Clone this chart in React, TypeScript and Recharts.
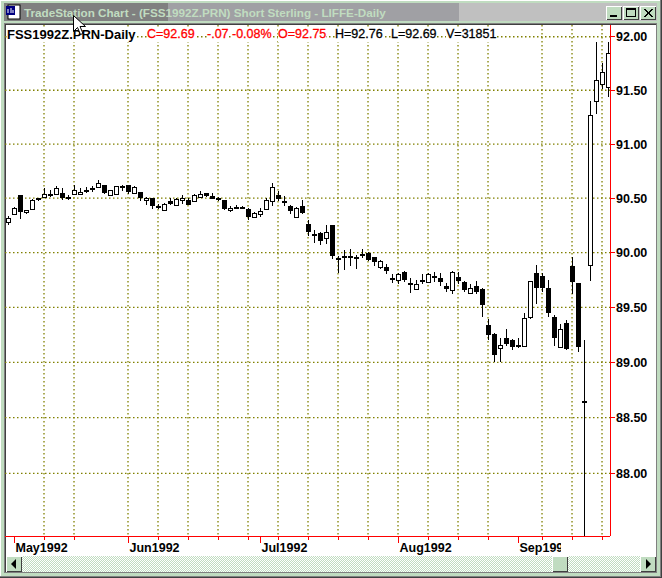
import { BarChart, Bar, XAxis, YAxis, CartesianGrid } from "recharts"

// one bar per trading day
const opens = [
	90.28, 90.35, 90.53, 90.37, 90.40, 90.50, 90.51, 90.54, 90.54, 90.55,
	90.51, 90.54, 90.54, 90.58, 90.59, 90.60, 90.62, 90.53, 90.54, 90.61,
	90.62, 90.55, 90.56, 90.48, 90.50, 90.43, 90.39, 90.47, 90.44, 90.48,
	90.48, 90.47, 90.51, 90.55, 90.52, 90.50, 90.48, 90.39, 90.42, 90.42,
	90.40, 90.33, 90.35, 90.40, 90.47, 90.53, 90.47, 90.43, 90.33, 90.43,
	90.26, 90.17, 90.18, 90.13, 90.25, 89.95, 89.97, 89.97, 89.96, 89.99,
	90.00, 89.96, 89.87, 89.87, 89.77, 89.75, 89.82, 89.72, 89.67, 89.75,
	89.73, 89.79, 89.77, 89.69, 89.66, 89.78, 89.73, 89.63, 89.69, 89.67,
	89.34, 89.26, 89.13, 89.22, 89.20, 89.16, 89.15, 89.41, 89.81, 89.79,
	89.68, 89.41, 89.14, 89.36, 89.88, 89.72, 88.65, 89.89, 91.40, 91.56,
	91.53,
]
const highs = [
	90.34, 90.42, 90.53, 90.39, 90.49, 90.50, 90.59, 90.58, 90.61, 90.59,
	90.53, 90.62, 90.59, 90.60, 90.61, 90.67, 90.62, 90.58, 90.61, 90.62,
	90.62, 90.61, 90.56, 90.51, 90.50, 90.45, 90.46, 90.50, 90.50, 90.53,
	90.50, 90.54, 90.57, 90.55, 90.55, 90.51, 90.48, 90.43, 90.44, 90.43,
	90.41, 90.37, 90.41, 90.50, 90.64, 90.57, 90.52, 90.44, 90.42, 90.48,
	90.30, 90.21, 90.19, 90.25, 90.25, 89.97, 90.02, 90.03, 89.98, 90.03,
	90.01, 89.96, 89.93, 89.90, 89.80, 89.81, 89.83, 89.77, 89.75, 89.80,
	89.81, 89.82, 89.81, 89.72, 89.83, 89.82, 89.74, 89.71, 89.74, 89.68,
	89.39, 89.27, 89.22, 89.30, 89.21, 89.22, 89.45, 89.74, 89.89, 89.81,
	89.75, 89.43, 89.35, 89.38, 89.96, 89.72, 89.20, 91.40, 91.95, 91.75,
	91.95,
]
const lows = [
	90.25, 90.35, 90.31, 90.35, 90.39, 90.47, 90.50, 90.51, 90.54, 90.48,
	90.48, 90.54, 90.53, 90.55, 90.56, 90.60, 90.54, 90.53, 90.54, 90.57,
	90.54, 90.55, 90.47, 90.44, 90.40, 90.40, 90.38, 90.44, 90.43, 90.45,
	90.44, 90.47, 90.51, 90.51, 90.49, 90.47, 90.39, 90.37, 90.40, 90.40,
	90.30, 90.32, 90.33, 90.39, 90.43, 90.47, 90.43, 90.35, 90.32, 90.35,
	90.15, 90.09, 90.07, 90.08, 89.94, 89.81, 89.84, 89.88, 89.85, 89.95,
	89.92, 89.88, 89.85, 89.80, 89.72, 89.71, 89.73, 89.63, 89.66, 89.71,
	89.72, 89.73, 89.69, 89.64, 89.62, 89.71, 89.64, 89.62, 89.62, 89.41,
	89.20, 89.00, 89.00, 89.15, 89.11, 89.13, 89.15, 89.39, 89.53, 89.64,
	89.41, 89.15, 89.13, 89.11, 89.62, 89.09, 87.44, 89.74, 91.28, 91.51,
	91.44,
]
const closes = [
	90.32, 90.41, 90.37, 90.39, 90.48, 90.48, 90.54, 90.52, 90.59, 90.50,
	90.49, 90.58, 90.56, 90.58, 90.59, 90.64, 90.55, 90.58, 90.61, 90.61,
	90.56, 90.60, 90.50, 90.50, 90.43, 90.41, 90.45, 90.45, 90.49, 90.50,
	90.44, 90.53, 90.54, 90.52, 90.49, 90.49, 90.40, 90.41, 90.42, 90.40,
	90.33, 90.36, 90.38, 90.48, 90.60, 90.49, 90.47, 90.38, 90.41, 90.36,
	90.19, 90.17, 90.11, 90.19, 89.97, 89.93, 89.97, 89.97, 89.94, 89.97,
	89.93, 89.91, 89.92, 89.83, 89.76, 89.80, 89.75, 89.71, 89.71, 89.74,
	89.80, 89.79, 89.73, 89.67, 89.82, 89.74, 89.66, 89.68, 89.64, 89.52,
	89.25, 89.07, 89.16, 89.17, 89.14, 89.15, 89.40, 89.74, 89.68, 89.68,
	89.45, 89.22, 89.30, 89.12, 89.73, 89.14, 88.65, 91.27, 91.60, 91.67,
	91.85,
]

const priceTicks = [92, 91.5, 91, 90.5, 90, 89.5, 89, 88.5, 88]
const minorDays = [6, 11, 25, 30, 35, 40, 45, 50, 55, 60, 70, 75, 80, 89, 94, 99]
const gridDays = [6, 11, 20, 25, 30, 35, 40, 45, 50, 55, 60, 65, 70, 75, 80, 89, 94, 99]
const monthDays = [1, 20, 42, 65, 85]
const monthLabels = ["May1992", "Jun1992", "Jul1992", "Aug1992", "Sep1992"]

const candles = closes.map((close, i) => ({
	day: i,
	open: opens[i],
	close,
	range: [lows[i], highs[i]],
}))

const Candle = (props: any) => {
	const { x, y, width, height, payload } = props
	const [low, high] = payload.range
	const perUnit = height / (high - low)
	const cx = Math.floor(x + width / 2) + 0.5
	const yAt = (v: number) => y + (high - v) * perUnit
	const top = Math.round(yAt(Math.max(payload.open, payload.close)))
	const bottom = Math.round(yAt(Math.min(payload.open, payload.close)))
	const up = payload.close > payload.open
	return (
		<g shapeRendering="crispEdges">
			<line x1={cx} x2={cx} y1={y} y2={y + height} stroke="#000" />
			{up ? (
				<rect
					x={cx - 2}
					y={top + 0.5}
					width={4}
					height={Math.max(bottom - top, 1)}
					fill="#fff"
					stroke="#000"
				/>
			) : (
				<rect
					x={cx - 2.5}
					y={top}
					width={5}
					height={Math.max(bottom - top, 2)}
					fill="#000"
				/>
			)}
		</g>
	)
}

const DayTick = (props: any) => {
	const { x, y, payload } = props
	const m = monthDays.indexOf(payload.value)
	const px = Math.floor(x) + 0.5
	return (
		<g>
			<line
				x1={px}
				x2={px}
				y1={y}
				y2={y + (m >= 0 ? 7 : 4)}
				stroke="#f00"
				shapeRendering="crispEdges"
			/>
			{m >= 0 && (
				<text
					x={px + 1}
					y={y + 16}
					clipPath="url(#monthClip)"
					fontFamily="Liberation Sans"
					fontWeight="bold"
					fontSize={12.5}
					fill="#000"
				>
					{monthLabels[m]}
				</text>
			)}
		</g>
	)
}

const PriceChart = () => (
	<BarChart
		width={662}
		height={578}
		data={candles}
		margin={{ top: 25, right: 0, left: 5, bottom: 0 }}
		style={{ position: "absolute", left: 0, top: 0 }}
	>
		<defs>
			<clipPath id="monthClip">
				<rect x={0} y={530} width={561} height={40} />
			</clipPath>
		</defs>
		<CartesianGrid
			stroke="#808000"
			strokeWidth={1.3}
			strokeDasharray="1.5 2.5"
			horizontalValues={priceTicks}
			verticalValues={gridDays}
		/>
		<XAxis
			dataKey="day"
			type="number"
			domain={[-0.5, 100.33]}
			ticks={[...minorDays, ...monthDays].sort((a, b) => a - b)}
			interval={0}
			height={42}
			tickSize={0}
			tickMargin={0}
			tickLine={false}
			tick={DayTick}
			axisLine={{ stroke: "#f00", shapeRendering: "crispEdges" }}
		/>
		<YAxis
			orientation="right"
			scale="log"
			domain={[87.44, 92.11]}
			allowDataOverflow
			ticks={priceTicks}
			interval={0}
			width={52}
			tickSize={5}
			tickMargin={1}
			tickFormatter={(v: number) => v.toFixed(2)}
			tickLine={{ stroke: "#f00", shapeRendering: "crispEdges" }}
			axisLine={{ stroke: "#f00", shapeRendering: "crispEdges" }}
			tick={{
				fill: "#000",
				fontFamily: "Liberation Sans",
				fontWeight: "bold",
				fontSize: 12.5,
			}}
		/>
		<Bar
			dataKey="range"
			barSize={5}
			shape={Candle}
			isAnimationActive={false}
		/>
	</BarChart>
)

const headerItems = [
	{ text: "FSS1992Z.PRN-Daily", x: 7, color: "#000", bold: true },
	{ text: "C=92.69", x: 147, color: "#f00", bold: false },
	{ text: "-.07", x: 207, color: "#f00", bold: false },
	{ text: "-0.08%", x: 232, color: "#f00", bold: false },
	{ text: "O=92.75", x: 278, color: "#f00", bold: false },
	{ text: "H=92.76", x: 335, color: "#000", bold: false },
	{ text: "L=92.69", x: 391, color: "#000", bold: false },
	{ text: "V=31851", x: 446, color: "#000", bold: false },
]

const bevel = "inset 1px 1px 0 #fff, inset -1px -1px 0 #404040"
const green = "#c0dcc0"

const box = (left: number, top: number, width: number, height: number) => ({
	position: "absolute" as const,
	left,
	top,
	width,
	height,
})

const WinButton = ({ left, top, width, height, children }: any) => (
	<div style={{ ...box(left, top, width, height), background: green, boxShadow: bevel }}>
		<svg width={width} height={height} style={{ display: "block" }}>
			{children}
		</svg>
	</div>
)

export default function App() {
	return (
		<div
			style={{
				...box(0, 0, 662, 578),
				background: green,
				overflow: "hidden",
				boxShadow: "inset -1px -1px 0 #404040, inset -2px -2px 0 #808080, inset 1px 1px 0 #fff",
			}}
		>
			{/* title bar */}
			<div style={{ ...box(4, 3, 653, 18), background: "#c0c0c0" }} />
			<div style={{ ...box(4, 3, 455, 18), background: "#a0a0a4" }} />
			<div style={{ ...box(4, 3, 164, 18), background: "#808080" }} />
			<div
				style={{
					...box(24, 3, 440, 18),
					color: green,
					fontFamily: "Liberation Sans",
					fontWeight: "bold",
					fontSize: 11.7,
					lineHeight: "20px",
					whiteSpace: "nowrap",
				}}
			>
				TradeStation Chart - (FSS1992Z.PRN) Short Sterling - LIFFE-Daily
			</div>
			<svg style={box(5, 4, 16, 16)} width={16} height={16}>
				<rect x={3} y={1} width={12} height={14} fill="#fff" stroke="#000" />
				<rect x={1} y={2} width={9} height={9} fill="#000080" />
				<path d="M3 9V5M6 9V4M8 9V6" stroke="#fff" />
			</svg>
			<WinButton left={606} top={6} width={16} height={14}>
				<rect x={4} y={9} width={7} height={2} fill="#000" />
			</WinButton>
			<WinButton left={623} top={6} width={16} height={14}>
				<rect x={3.5} y={2.5} width={9} height={8} fill="none" stroke="#000" />
				<rect x={3} y={2} width={10} height={2} fill="#000" />
			</WinButton>
			<WinButton left={640} top={6} width={16} height={14}>
				<path d="M4 3L12 11M12 3L4 11M5 3L13 11M13 3L5 11" stroke="#000" fill="none" />
			</WinButton>

			{/* client area */}
			<div style={{ ...box(4, 23, 653, 550), background: "#808080" }} />
			<div style={{ ...box(5, 24, 651, 548), background: "#404040" }} />
			<div style={{ ...box(6, 25, 650, 531), background: "#fff" }} />
			<PriceChart />
			{headerItems.map((item) => (
				<div
					key={item.text}
					style={{
						position: "absolute",
						left: item.x,
						top: 27,
						height: 15,
						lineHeight: "15px",
						background: "#fff",
						color: item.color,
						fontFamily: "Liberation Sans",
						fontWeight: item.bold ? "bold" : "normal",
						fontSize: item.bold ? 13 : 12.5,
						WebkitTextStroke: item.bold ? undefined : "0.3px",
						whiteSpace: "nowrap",
					}}
				>
					{item.text}
				</div>
			))}

			{/* scrollbar */}
			<div
				style={{
					...box(6, 556, 650, 16),
					background: "repeating-conic-gradient(#c0dcc0 0 25%, #fff 0 50%) 0 0 / 2px 2px",
				}}
			/>
			<WinButton left={6} top={556} width={16} height={16}>
				<path d="M5 8L10 3V13Z" fill="#000" />
			</WinButton>
			<WinButton left={552} top={556} width={16} height={16} />
			<WinButton left={640} top={556} width={16} height={16}>
				<path d="M11 8L6 3V13Z" fill="#000" />
			</WinButton>

			{/* mouse pointer */}
			<svg style={box(73, 15, 13, 20)} width={13} height={20}>
				<path
					d="M0.5 0.5V16.5L4.5 12.5L7.5 19.5L10 18.5L7 11.5H12.5Z"
					fill="#fff"
					stroke="#000"
				/>
			</svg>
		</div>
	)
}
